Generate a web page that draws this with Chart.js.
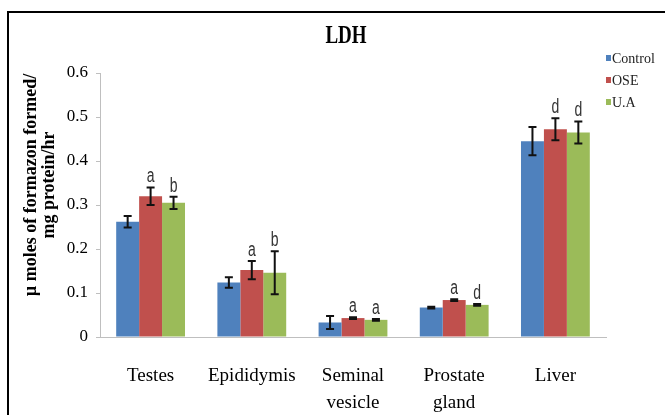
<!DOCTYPE html>
<html>
<head>
<meta charset="utf-8">
<script src="https://cdn.jsdelivr.net/npm/chart.js@4.4.0/dist/chart.umd.min.js"></script>
<style>
  html, body { margin: 0; padding: 0; background: #fff; }
  #wrap { position: relative; width: 665px; height: 415px; overflow: hidden; }
  #frame { position: absolute; left: 7px; top: 11px; width: 700px; height: 500px; border: 2px solid #000; box-sizing: border-box; pointer-events: none; }
  canvas { position: absolute; left: 0; top: 0; }
</style>
</head>
<body>
<div id="wrap">
  <canvas id="c" width="665" height="415"></canvas>
  <div id="frame"></div>
</div>
<script>
const categories = ["Testes", "Epididymis", ["Seminal", "vesicle"], ["Prostate", "gland"], "Liver"];
const seriesNames = ["Control", "OSE", "U.A"];
const seriesColors = ["#4f81bd", "#c0504d", "#9bbb59"];

const controlValues = [0.262, 0.124, 0.033, 0.067, 0.445];
const oseValues     = [0.320, 0.152, 0.043, 0.084, 0.472];
const uaValues      = [0.305, 0.146, 0.039, 0.073, 0.465];

const controlErrors = [0.013, 0.012, 0.015, 0.002, 0.032];
const oseErrors     = [0.020, 0.021, 0.002, 0.002, 0.025];
const uaErrors      = [0.014, 0.049, 0.002, 0.002, 0.025];

const controlLetters = ["", "", "", "", ""];
const oseLetters     = ["a", "a", "a", "a", "d"];
const uaLetters      = ["b", "b", "a", "d", "d"];

const yTicks = [0, 0.1, 0.2, 0.3, 0.4, 0.5, 0.6];
const chartTitle = "LDH";
const yTitle = ["\u00b5 moles of formazon formed/", "mg protein/hr"];

const allValues = [controlValues, oseValues, uaValues];
const allErrors = [controlErrors, oseErrors, uaErrors];
const allLetters = [controlLetters, oseLetters, uaLetters];

const serif = "'Liberation Serif', 'Times New Roman', serif";

function stretchedText(ctx, text, x, y, font, sy) {
  ctx.save();
  ctx.translate(x, y);
  ctx.scale(1, sy);
  ctx.font = font;
  ctx.fillText(text, 0, 0);
  ctx.restore();
}

// error bars, letters, title, y title, legend
const extrasPlugin = {
  id: "extras",
  afterDatasetsDraw(chart) {
    const ctx = chart.ctx;
    const y = chart.scales.y;
    ctx.save();
    chart.data.datasets.forEach((ds, di) => {
      const meta = chart.getDatasetMeta(di);
      meta.data.forEach((bar, i) => {
        const v = allValues[di][i];
        const e = allErrors[di][i];
        const top = y.getPixelForValue(v + e);
        const bot = y.getPixelForValue(v - e);
        const x = bar.x;
        ctx.strokeStyle = "#111";
        ctx.lineWidth = 2;
        ctx.beginPath();
        ctx.moveTo(x, top); ctx.lineTo(x, bot);
        ctx.moveTo(x - 4, top); ctx.lineTo(x + 4, top);
        ctx.moveTo(x - 4, bot); ctx.lineTo(x + 4, bot);
        ctx.stroke();
        const letter = allLetters[di][i];
        if (letter) {
          ctx.fillStyle = "#333";
          ctx.textAlign = "center";
          ctx.textBaseline = "alphabetic";
          stretchedText(ctx, letter, x, top - 5, "14px 'Liberation Sans', Arial, sans-serif", 1.4);
        }
      });
    });

    // title
    ctx.fillStyle = "#000";
    ctx.textAlign = "center";
    ctx.textBaseline = "alphabetic";
    stretchedText(ctx, chartTitle, 346, 43, "bold 19px " + serif, 1.28);

    // y axis title
    ctx.save();
    ctx.translate(36, 185);
    ctx.rotate(-Math.PI / 2);
    ctx.font = "bold 18px " + serif;
    ctx.textAlign = "center";
    ctx.fillText(yTitle[0], 0, 0);
    ctx.fillText(yTitle[1], 0, 18);
    ctx.restore();

    // legend
    ctx.font = "14px " + serif;
    ctx.textAlign = "left";
    ctx.textBaseline = "middle";
    chart.data.datasets.forEach((ds, di) => {
      const cy = 58 + di * 22;
      ctx.fillStyle = ds.backgroundColor;
      ctx.fillRect(606, cy - 3, 5, 6);
      ctx.fillStyle = "#222";
      ctx.fillText(ds.label, 612, cy + 1);
    });
    ctx.restore();
  }
};

new Chart(document.getElementById("c"), {
  type: "bar",
  data: {
    labels: categories,
    datasets: seriesNames.map((name, i) => ({
      label: name,
      data: allValues[i],
      backgroundColor: seriesColors[i],
      borderWidth: 0,
      categoryPercentage: 0.68,
      barPercentage: 1.0
    }))
  },
  options: {
    responsive: false,
    animation: false,
    layout: { padding: { left: 30, right: 59, top: 73, bottom: 0 } },
    plugins: {
      title: { display: false },
      legend: { display: false },
      tooltip: { enabled: false }
    },
    scales: {
      x: {
        afterFit(scale) { scale.height = 78; },
        grid: { display: false },
        border: { color: "#bfbfbf" },
        ticks: { color: "#000", font: { family: serif, size: 19, lineHeight: 1.4 }, padding: 18, maxRotation: 0, autoSkip: false }
      },
      y: {
        min: 0,
        max: 0.6,
        afterFit(scale) { scale.width = 70; },
        afterBuildTicks(axis) { axis.ticks = yTicks.map(v => ({ value: v })); },
        grid: { drawOnChartArea: false, drawTicks: true, tickLength: 4, color: "#bfbfbf" },
        border: { color: "#bfbfbf" },
        ticks: {
          color: "#000",
          padding: 8,
          font: { family: serif, size: 17 },
          callback: v => v === 0 ? "0" : v.toFixed(1)
        }
      }
    }
  },
  plugins: [extrasPlugin]
});
</script>
</body>
</html>
